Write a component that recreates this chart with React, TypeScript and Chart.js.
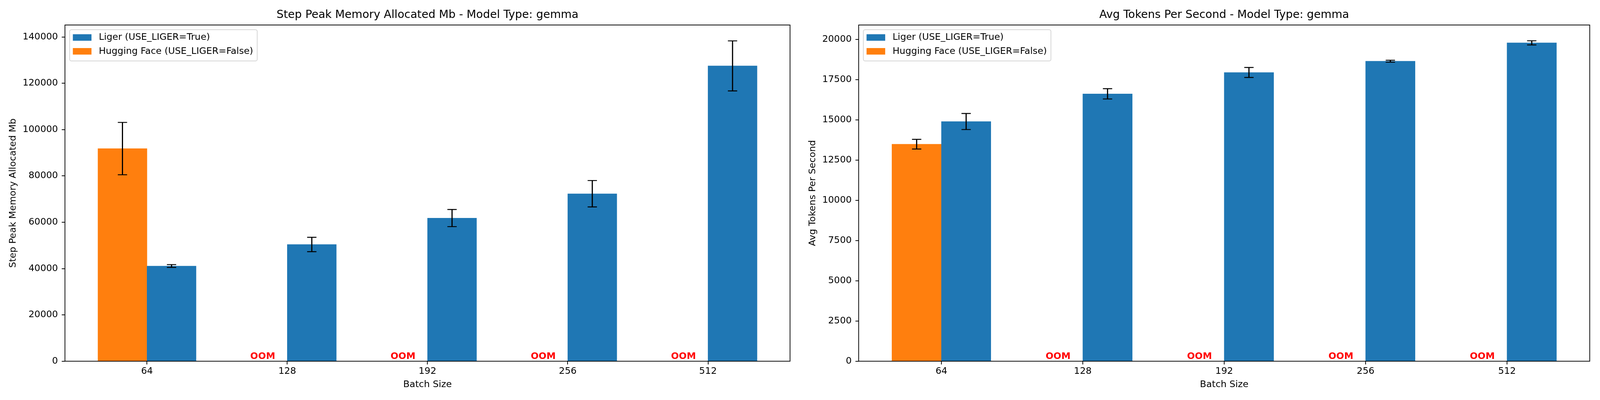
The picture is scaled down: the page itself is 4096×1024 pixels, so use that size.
import React, { useEffect, useRef } from 'react';
import { Chart, registerables } from 'chart.js';

Chart.register(...registerables);

// ---------------- data ----------------
const batchSizes = ['64', '128', '192', '256', '512'];

const memoryLiger = [41100, 50400, 61800, 72300, 127500];
const memoryLigerErr = [600, 3100, 3700, 5700, 10800];
const memoryHF = [91800, null, null, null, null];
const memoryHFErr = [11300, null, null, null, null];
const memoryTicks = [0, 20000, 40000, 60000, 80000, 100000, 120000, 140000];
const memoryAxisMax = 145150;

const tpsLiger = [14900, 16620, 17950, 18650, 19790];
const tpsLigerErr = [500, 320, 310, 60, 130];
const tpsHF = [13490, null, null, null, null];
const tpsHFErr = [300, null, null, null, null];
const tpsTicks = [0, 2500, 5000, 7500, 10000, 12500, 15000, 17500, 20000];
const tpsAxisMax = 20900;

const ligerLabel = 'Liger (USE_LIGER=True)';
const hfLabel = 'Hugging Face (USE_LIGER=False)';

// ---------------- styles / layout ----------------
const FONT = "'DejaVu Sans', 'Liberation Sans', sans-serif";
const BLUE = '#1f77b4';
const ORANGE = '#ff7f0e';
const CANVAS_W = 2048;
const CANVAS_H = 1024;
const PLOT_BOTTOM = 924.7;
const TICK_FONT = 23.7;
const TITLE_FONT = 28.4;
const TICK_LEN = 8.3;
const SPINE_W = 1.9;
const BAR_W = 0.35;
const X_MARGIN = 0.585;
const CAP = 11.9;

Chart.defaults.font.family = FONT;
Chart.defaults.color = '#000';

const errorBarPlugin = {
  id: 'errorBars',
  afterDatasetsDraw(chart: any) {
    const ctx = chart.ctx;
    const xs = chart.scales.x;
    const ys = chart.scales.y;
    chart.data.datasets.forEach((ds: any) => {
      const errs = ds.errors;
      if (!errs) return;
      ds.data.forEach((pt: any, i: number) => {
        const v = pt.y;
        const e = errs[i];
        if (v == null || e == null) return;
        const x = xs.getPixelForValue(pt.x);
        const yt = ys.getPixelForValue(v + e);
        const yb = ys.getPixelForValue(v - e);
        ctx.save();
        ctx.strokeStyle = '#000';
        ctx.lineWidth = 3.0;
        ctx.beginPath();
        ctx.moveTo(x, yt);
        ctx.lineTo(x, yb);
        ctx.stroke();
        ctx.lineWidth = 2.4;
        ctx.beginPath();
        ctx.moveTo(x - CAP, yt);
        ctx.lineTo(x + CAP, yt);
        ctx.moveTo(x - CAP, yb);
        ctx.lineTo(x + CAP, yb);
        ctx.stroke();
        ctx.restore();
      });
    });
  },
};

const oomPlugin = {
  id: 'oomLabels',
  afterDatasetsDraw(chart: any) {
    const ctx = chart.ctx;
    const xs = chart.scales.x;
    const ys = chart.scales.y;
    chart.data.datasets.forEach((ds: any) => {
      if (!ds.oom) return;
      ds.data.forEach((pt: any) => {
        if (pt.y != null) return;
        const x = xs.getPixelForValue(pt.x);
        const y = ys.getPixelForValue(0) - 5.6;
        ctx.save();
        ctx.font = `bold ${TICK_FONT}px ${FONT}`;
        ctx.fillStyle = '#ff0000';
        ctx.textAlign = 'center';
        ctx.textBaseline = 'alphabetic';
        ctx.fillText('OOM', x, y);
        ctx.restore();
      });
    });
  },
};

const framePlugin = {
  id: 'frame',
  afterDraw(chart: any) {
    const { ctx, chartArea } = chart;
    ctx.save();
    ctx.strokeStyle = '#000';
    ctx.lineWidth = SPINE_W;
    ctx.strokeRect(chartArea.left, chartArea.top, chartArea.right - chartArea.left, chartArea.bottom - chartArea.top);
    ctx.restore();
  },
};

const legendPlugin = {
  id: 'boxLegend',
  afterDraw(chart: any) {
    const { ctx, chartArea } = chart;
    const items = chart.data.datasets;
    ctx.save();
    ctx.font = `${TICK_FONT}px ${FONT}`;
    const textW = Math.max(...items.map((d: any) => ctx.measureText(d.label).width));
    const fx = chartArea.left + 12;
    const fy = chartArea.top + 11.9;
    const textX = 74.7;
    const fw = textX + textW + 10.4;
    const fh = 80.2;
    const r = 4.7;
    ctx.beginPath();
    ctx.moveTo(fx + r, fy);
    ctx.lineTo(fx + fw - r, fy);
    ctx.arcTo(fx + fw, fy, fx + fw, fy + r, r);
    ctx.lineTo(fx + fw, fy + fh - r);
    ctx.arcTo(fx + fw, fy + fh, fx + fw - r, fy + fh, r);
    ctx.lineTo(fx + r, fy + fh);
    ctx.arcTo(fx, fy + fh, fx, fy + fh - r, r);
    ctx.lineTo(fx, fy + r);
    ctx.arcTo(fx, fy, fx + r, fy, r);
    ctx.closePath();
    ctx.fillStyle = 'rgba(255,255,255,0.8)';
    ctx.fill();
    ctx.strokeStyle = 'rgba(204,204,204,0.8)';
    ctx.lineWidth = 2;
    ctx.stroke();
    items.forEach((d: any, k: number) => {
      const cy = fy + 20.1 + k * 35.4;
      ctx.fillStyle = d.backgroundColor;
      ctx.fillRect(fx + 8.2, cy - 8.35, 47.7, 16.7);
      ctx.fillStyle = '#000';
      ctx.textAlign = 'left';
      ctx.textBaseline = 'middle';
      ctx.fillText(d.label, fx + textX, cy);
    });
    ctx.restore();
  },
};

type Spec = {
  title: string;
  yLabel: string;
  liger: (number | null)[];
  ligerErr: (number | null)[];
  hf: (number | null)[];
  hfErr: (number | null)[];
  yTicks: number[];
  yMax: number;
  yWidth: number;
  yTitlePad: number;
  padRight: number;
};

function makeConfig(s: Spec): any {
  return {
    type: 'bar',
    data: {
      datasets: [
        {
          label: ligerLabel,
          data: s.liger.map((v, i) => ({ x: i + BAR_W / 2, y: v })),
          errors: s.ligerErr,
          backgroundColor: BLUE,
          borderWidth: 0,
          grouped: false,
          barPercentage: 1,
          categoryPercentage: 1,
        },
        {
          label: hfLabel,
          data: s.hf.map((v, i) => ({ x: i - BAR_W / 2, y: v })),
          errors: s.hfErr,
          oom: true,
          backgroundColor: ORANGE,
          borderWidth: 0,
          grouped: false,
          barPercentage: 1,
          categoryPercentage: 1,
        },
      ],
    },
    options: {
      animation: false,
      responsive: false,
      devicePixelRatio: 1,
      layout: { padding: { left: 0, right: s.padRight, top: 0, bottom: 0 } },
      plugins: {
        legend: { display: false },
        tooltip: { enabled: false },
        title: {
          display: true,
          text: s.title,
          fullSize: false,
          color: '#000',
          font: { family: FONT, size: TITLE_FONT, weight: 'normal', lineHeight: 1.2 },
          padding: { top: 22, bottom: 7.9 },
        },
      },
      scales: {
        x: {
          type: 'linear',
          min: -X_MARGIN,
          max: batchSizes.length - 1 + X_MARGIN,
          bounds: 'data',
          offset: false,
          afterBuildTicks: (axis: any) => {
            axis.ticks = batchSizes.map((_, i) => ({ value: i }));
          },
          afterFit: (axis: any) => {
            axis.height = CANVAS_H - PLOT_BOTTOM;
          },
          ticks: {
            callback: (v: any) => batchSizes[v],
            color: '#000',
            font: { family: FONT, size: TICK_FONT },
            padding: 3.5,
            maxRotation: 0,
            autoSkip: false,
          },
          grid: {
            offset: false,
            drawOnChartArea: false,
            drawTicks: true,
            tickLength: TICK_LEN,
            color: '#000',
            lineWidth: SPINE_W,
          },
          border: { display: false },
          title: {
            display: true,
            text: 'Batch Size',
            color: '#000',
            font: { family: FONT, size: TICK_FONT, lineHeight: 1.2 },
            padding: { top: 0, bottom: 25.3 },
          },
        },
        y: {
          type: 'linear',
          min: 0,
          max: s.yMax,
          bounds: 'data',
          afterBuildTicks: (axis: any) => {
            axis.ticks = s.yTicks.map((v) => ({ value: v }));
          },
          afterFit: (axis: any) => {
            axis.width = s.yWidth;
          },
          ticks: {
            callback: (v: any) => String(v),
            color: '#000',
            font: { family: FONT, size: TICK_FONT },
            padding: 9.6,
            autoSkip: false,
          },
          grid: {
            offset: false,
            drawOnChartArea: false,
            drawTicks: true,
            tickLength: TICK_LEN,
            color: '#000',
            lineWidth: SPINE_W,
          },
          border: { display: false },
          title: {
            display: true,
            text: s.yLabel,
            color: '#000',
            font: { family: FONT, size: TICK_FONT, lineHeight: 1.2 },
            padding: { top: s.yTitlePad, bottom: 0 },
          },
        },
      },
    },
    plugins: [errorBarPlugin, oomPlugin, framePlugin, legendPlugin],
  };
}

export default function App() {
  const leftRef = useRef<HTMLCanvasElement | null>(null);
  const rightRef = useRef<HTMLCanvasElement | null>(null);

  useEffect(() => {
    const charts: Chart[] = [];
    if (leftRef.current) {
      charts.push(
        new Chart(
          leftRef.current,
          makeConfig({
            title: 'Step Peak Memory Allocated Mb - Model Type: gemma',
            yLabel: 'Step Peak Memory Allocated Mb',
            liger: memoryLiger,
            ligerErr: memoryLigerErr,
            hf: memoryHF,
            hfErr: memoryHFErr,
            yTicks: memoryTicks,
            yMax: memoryAxisMax,
            yWidth: 166.3,
            yTitlePad: 20.1,
            padRight: 25.5,
          })
        )
      );
    }
    if (rightRef.current) {
      charts.push(
        new Chart(
          rightRef.current,
          makeConfig({
            title: 'Avg Tokens Per Second - Model Type: gemma',
            yLabel: 'Avg Tokens Per Second',
            liger: tpsLiger,
            ligerErr: tpsLigerErr,
            hf: tpsHF,
            hfErr: tpsHFErr,
            yTicks: tpsTicks,
            yMax: tpsAxisMax,
            yWidth: 150.2,
            yTitlePad: 18.8,
            padRight: 26.3,
          })
        )
      );
    }
    return () => charts.forEach((c) => c.destroy());
  }, []);

  return (
    <div style={{ position: 'absolute', left: 0, top: 0, width: 4096, height: 1024, background: '#fff' }}>
      <canvas
        ref={leftRef}
        width={CANVAS_W}
        height={CANVAS_H}
        style={{ position: 'absolute', left: 0, top: 0, width: CANVAS_W, height: CANVAS_H }}
      />
      <canvas
        ref={rightRef}
        width={CANVAS_W}
        height={CANVAS_H}
        style={{ position: 'absolute', left: CANVAS_W, top: 0, width: CANVAS_W, height: CANVAS_H }}
      />
    </div>
  );
}
